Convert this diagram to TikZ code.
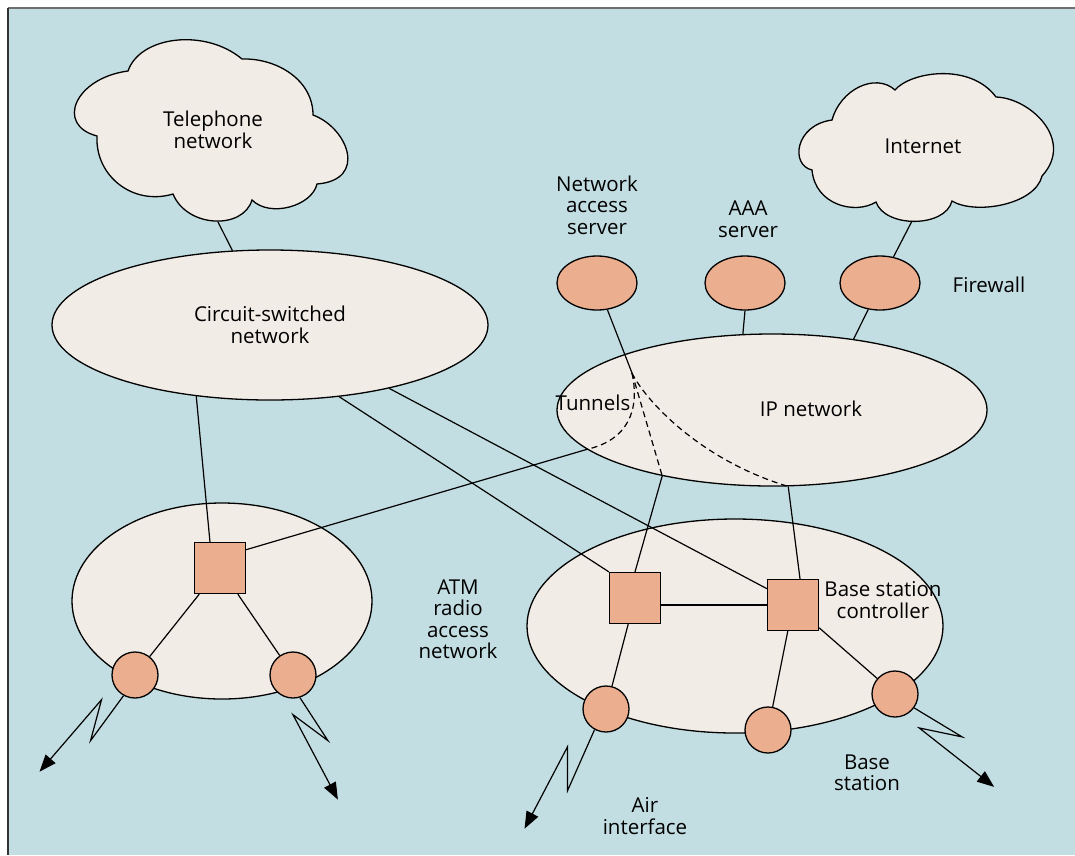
\documentclass[tikz,border=0pt]{standalone}
\usepackage{fontspec}
\setmainfont{Open Sans}
\usetikzlibrary{arrows.meta,positioning,shapes.geometric}
\definecolor{cBg}{HTML}{C3DEE2}
\definecolor{cNet}{HTML}{F2ECE6}
\definecolor{cEq}{HTML}{EBAE8F}
\definecolor{cFrm}{HTML}{6E6E6E}
\tikzset{
  netell/.style 2 args={ellipse, draw, line width=1.3pt, fill=cNet, inner sep=0pt,
               minimum width=#1, minimum height=#2, align=center, font=\lblfont},
  cloudln/.style={draw, line width=1.3pt, fill=cNet},
  srv/.style={ellipse, draw, line width=1.3pt, fill=cEq, inner sep=0pt,
               minimum width=80pt, minimum height=54pt},
  swbox/.style={rectangle, draw, line width=1.3pt, fill=cEq, inner sep=0pt, minimum size=51pt},
  bts/.style={circle, draw, line width=1.3pt, fill=cEq, inner sep=0pt, minimum size=46pt},
  lnk/.style={line width=1.2pt},
  tunl/.style={line width=1.2pt, dash pattern=on 6pt off 4pt},
  radio/.style={line width=1.2pt, -{Triangle[length=17pt,width=13pt]}},
  lbl/.style={align=center, inner sep=0pt, font=\lblfont},
}
\newcommand{\lblfont}{\fontsize{20.5}{21.5}\selectfont}

\begin{document}
\begin{tikzpicture}[x=1pt,y=-1pt]
\useasboundingbox (0,0) rectangle (1075,855);
\fill[cBg] (8,8) rectangle (1075,855);
\draw[cFrm, line width=2pt] (8,8) -- (1075,8);
\draw[black!80, line width=2pt] (8,8) -- (8,855);

% clouds
\draw[cloudln] (128,71) .. controls (140,36) and (205,28) .. (242,59)
  .. controls (277,58) and (313,80) .. (313,115)
  .. controls (348,128) and (368,180) .. (317,184)
  .. controls (312,206) and (270,218) .. (252,200)
  .. controls (243,230) and (187,228) .. (173,194)
  .. controls (133,206) and (95,176) .. (97,136)
  .. controls (55,125) and (75,78) .. (128,71) -- cycle;
\coordinate (telbot) at (218,222);
\node[lbl] (tellbl) at (213,130) {Telephone\\network};

\draw[cloudln] (832,120) .. controls (840,90) and (875,72) .. (895,90)
  .. controls (910,72) and (970,62) .. (996,97)
  .. controls (1030,98) and (1075,140) .. (1042,176)
  .. controls (1035,205) and (975,215) .. (952,201)
  .. controls (945,228) and (885,228) .. (876,202)
  .. controls (855,215) and (815,205) .. (812,170)
  .. controls (790,165) and (795,125) .. (832,120) -- cycle;
\coordinate (inetbot) at (912,221);
\node[lbl] (inetlbl) at (923,146) {Internet};

% networks
\node[netell={436pt}{150pt}] (csn) at (270,325) {Circuit-switched\\network};
\node[netell={430pt}{152pt}] (ipn) at (772,410) {};
\node[lbl] (iplbl) at (811,409) {IP network};
\node[netell={300pt}{196pt}] (ran1) at (222,601) {};
\node[netell={416pt}{214pt}] (ran2) at (735,626) {};

% servers
\node[srv] (nas) at (597,283) {};
\node[srv] (aaa) at (745,283) {};
\node[srv] (fw) at (880,283) {};
\node[lbl] (naslbl) at (597,205) {Network\\access\\server};
\node[lbl] (aaalbl) at (748,219) {AAA\\server};
\node[lbl] (fwlbl) at (989,285) {Firewall};

% switches and base stations
\node[swbox] (sw1) at (220,568) {};
\node[swbox] (sw2) at (635,598) {};
\node[swbox] (bsc) at (793,605) {};
\node[bts] (bs1) at (135,675) {};
\node[bts] (bs2) at (293,675) {};
\node[bts] (bs3) at (606,709) {};
\node[bts] (bs4) at (768,730) {};
\node[bts] (bs5) at (895,694) {};

\node[lbl] (atmlbl) at (458,619) {ATM\\radio\\access\\network};
\node[lbl] (bsclbl) at (883,600) {Base station\\controller};
\node[lbl] (btslbl) at (867,773) {Base\\station};
\node[lbl] (airlbl) at (645,816) {Air\\interface};

% links
\draw[lnk] (telbot) -- (csn);
\draw[lnk] (inetbot) -- (fw);
\draw[lnk] (csn.224) -- (sw1.111);
\draw[lnk] (csn.314) -- (sw2.north west);
\draw[lnk] (csn.332) -- (bsc.148);
\draw[lnk] (sw1.35) -- (ipn.192);
\draw[lnk] (ipn.211) -- (sw2.north);
\draw[lnk] (ipn.282) -- (bsc.75);
\draw[lnk] (sw2.east |- bsc) -- (bsc.west);
\draw[lnk] (aaa.south) -- (ipn.111);
\draw[lnk] (fw.246) -- (ipn.41);
\draw[lnk] (sw1) -- (bs1);
\draw[lnk] (sw1) -- (bs2);
\draw[lnk] (sw2) -- (bs3);
\draw[lnk] (bsc) -- (bs4);
\draw[lnk] (bsc) -- (bs5);

% tunnels
\coordinate (tun) at (632,373);
\draw[lnk] (nas) -- (tun);
\draw[tunl] (tun) .. controls (640,410) and (628,440) .. (ipn.192);
\draw[tunl] (tun) -- (ipn.211);
\draw[tunl] (tun) .. controls (645,400) and (700,460) .. (ipn.282);
\node[lbl] (tunlbl) at (593,403) {Tunnels};

% air interface
\draw[radio] (bs1.241) -- ++(-33,45) -- ++(11,-41) -- ++(-62,72);
\draw[radio] (bs2.287) -- ++(28,43) -- ++(-35,-26) -- ++(45,85);
\draw[radio] (bs3.241) -- ++(-27,61) -- ++(0,-44) -- ++(-43,82);
\draw[radio] (bs5.324) -- ++(48,29) -- ++(-43,-9) -- ++(75,59);
\end{tikzpicture}
\end{document}
